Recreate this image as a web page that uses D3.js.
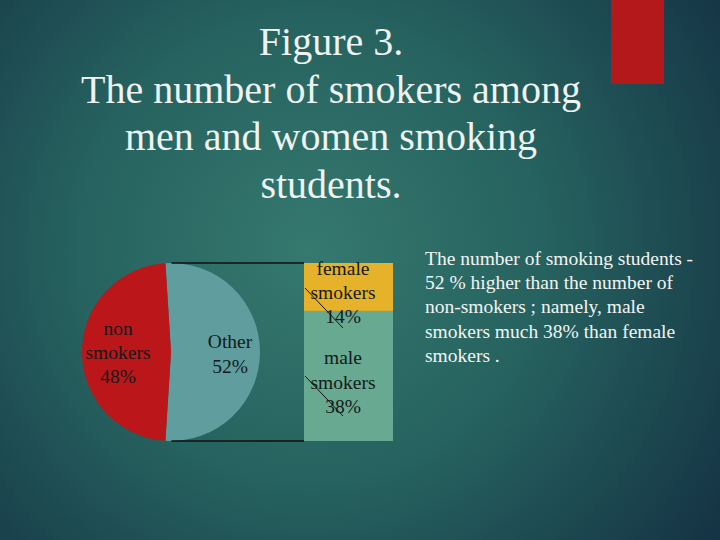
<!DOCTYPE html>
<html>
<head>
<meta charset="utf-8">
<script src="https://cdn.jsdelivr.net/npm/d3@7"></script>
<style>
html,body{margin:0;padding:0;background:#1c4550;}
svg{display:block;}
</style>
</head>
<body>
<script>
// ---- data ----
const titleLines = ["Figure 3.", "The number of smokers among", "men and women smoking", "students."];
const pieCategories = ["Other", "non smokers"];
const pieValues = [52, 48];
const pieLabelLines = [["Other", "52%"], ["non", "smokers", "48%"]];
const barCategories = ["male smokers", "female smokers"];
const barValues = [38, 14];
const barLabelLines = [["male", "smokers", "38%"], ["female", "smokers", "14%"]];
const noteLines = ["The number of smoking students -", "52 % higher than the number of", "non-smokers ; namely, male", "smokers much 38% than female", "smokers ."];

const W = 720, H = 540;
const serif = "'Liberation Serif','Times New Roman',serif";

const svg = d3.select("body").append("svg").attr("width", W).attr("height", H);
const defs = svg.append("defs");
const rg = defs.append("radialGradient").attr("id", "bg")
  .attr("gradientUnits", "userSpaceOnUse")
  .attr("cx", 310).attr("cy", 250).attr("r", 520);
rg.append("stop").attr("offset", "0").attr("stop-color", "#35796f");
rg.append("stop").attr("offset", "0.45").attr("stop-color", "#26625f");
rg.append("stop").attr("offset", "1").attr("stop-color", "#132f42");
svg.append("rect").attr("width", W).attr("height", H).attr("fill", "url(#bg)");

// red accent bar
svg.append("rect").attr("x", 611).attr("y", 0).attr("width", 53).attr("height", 84).attr("fill", "#b3191b");

// title
const title = svg.append("text").attr("text-anchor", "middle")
  .attr("font-family", serif).attr("font-size", 40).attr("fill", "#eef2f0");
titleLines.forEach((t, i) => {
  title.append("tspan").attr("x", 331).attr("y", 55 + i * 47.5).text(t);
});

// ---- pie ----
const cx = 171, cy = 352, r = 89;
const otherSpan = pieValues[0] / d3.sum(pieValues) * 2 * Math.PI;
const start = Math.PI / 2 - otherSpan / 2;
const pie = d3.pie().sort(null).startAngle(start).endAngle(start + 2 * Math.PI);
const arcs = pie(pieValues);
const arc = d3.arc().innerRadius(0).outerRadius(r);
const pieColors = ["#5f9d9f", "#bb1619"];
const gp = svg.append("g").attr("transform", `translate(${cx},${cy})`);
gp.selectAll("path").data(arcs).join("path")
  .attr("d", arc).attr("fill", (d, i) => pieColors[i]);

// ---- bar ----
const barX = 304, barW = 89, barTop = 263, barBot = 441;
const y = d3.scaleLinear().domain([0, d3.sum(barValues)]).range([barBot, barTop]);
const stack = [];
let acc = 0;
barValues.forEach((v, i) => { stack.push({cat: barCategories[i], y0: acc, y1: acc + v}); acc += v; });
const barColors = ["#68a991", "#e6b22a"];
svg.selectAll("rect.bar").data(stack).join("rect").attr("class", "bar")
  .attr("x", barX).attr("width", barW)
  .attr("y", d => y(d.y1)).attr("height", d => y(d.y0) - y(d.y1))
  .attr("fill", (d, i) => barColors[i]);

// connector lines from Other slice edge to bar
const a0 = arcs[0].startAngle, a1 = arcs[0].endAngle;
const p0 = [cx + r * Math.sin(a0), cy - r * Math.cos(a0)];
const p1 = [cx + r * Math.sin(a1), cy - r * Math.cos(a1)];
svg.append("line").attr("x1", p0[0] + 6).attr("y1", y(acc)).attr("x2", barX).attr("y2", y(acc))
  .attr("stroke", "#111").attr("stroke-width", 1.6);
svg.append("line").attr("x1", p1[0] + 6).attr("y1", y(0)).attr("x2", barX).attr("y2", y(0))
  .attr("stroke", "#111").attr("stroke-width", 1.6);

// ---- labels ----
const labelColor = "#141a1a";
function multiLabel(x, y0, lines, step) {
  const t = svg.append("text").attr("text-anchor", "middle").attr("font-family", serif)
    .attr("font-size", 19.5).attr("fill", labelColor);
  lines.forEach((s, i) => t.append("tspan").attr("x", x).attr("y", y0 + i * step).text(s));
}
multiLabel(230, 348, pieLabelLines[0], 24.5);
multiLabel(118, 335, pieLabelLines[1], 24);
// bar labels
multiLabel(343, 364, barLabelLines[0], 24.5);
multiLabel(343, 275, barLabelLines[1], 24);
// leader lines
[[288, 328], [376, 416]].forEach(([ya, yb]) => {
  svg.append("line").attr("x1", barX + 1).attr("y1", ya).attr("x2", 343).attr("y2", yb)
    .attr("stroke", "#111").attr("stroke-width", 1);
});

// note text
const note = svg.append("text").attr("font-family", serif).attr("font-size", 19.5).attr("fill", "#f2f4f3");
noteLines.forEach((s, i) => note.append("tspan").attr("x", 425).attr("y", 265 + i * 24.2).text(s));
</script>
</body>
</html>
